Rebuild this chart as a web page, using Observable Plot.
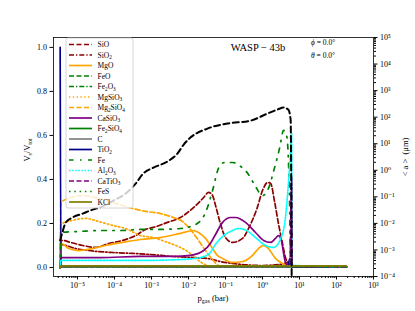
<!DOCTYPE html>
<html><head><meta charset="utf-8">
<script src="https://cdn.jsdelivr.net/npm/d3@7"></script>
<script src="https://cdn.jsdelivr.net/npm/@observablehq/plot@0.6"></script>
<style>
body{margin:0;background:#fff;}
#chart{width:415px;height:311px;overflow:hidden;}
</style></head><body><div id="chart"></div>
<script>
// ---- data: [log10(p_gas / bar), volume fraction V_s/V_tot] ----
const SiO = [[-5.47,0],[-5.45,0.118],[-5.41,0.123],[-5.19,0.114],[-4.86,0.10],[-4.51,0.091],[-4.16,0.109],[-3.78,0.123],[-3.43,0.145],[-3.16,0.173],[-2.95,0.182],[-2.57,0.205],[-2.22,0.227],[-1.86,0.273],[-1.59,0.318],[-1.46,0.341],[-1.36,0.33],[-1.27,0.282],[-1.14,0.20],[-1.0,0.136],[-0.81,0.114],[-0.54,0.132],[-0.38,0.177],[-0.14,0.273],[0.0,0.35],[0.14,0.386],[0.22,0.382],[0.32,0.305],[0.43,0.20],[0.54,0.109],[0.62,0.045],[0.70,0.018],[0.78,0.004],[2.27,0.003]];
const SiO2 = [[-5.47,0],[-5.45,0.105],[-5.32,0.10],[-5.05,0.086],[-4.70,0.077],[-4.05,0.068],[-3.51,0.064],[-3.03,0.059],[-2.41,0.05],[-1.86,0.045],[-1.49,0.041],[-1.14,0.027],[-0.59,0.014],[-0.05,0.009],[0.49,0.014],[0.70,0.023],[0.78,0.004],[2.27,0.003]];
const MgO = [[-5.47,0],[-5.43,0.109],[-5.24,0.086],[-4.97,0.077],[-4.59,0.086],[-4.24,0.10],[-3.78,0.114],[-3.30,0.127],[-2.76,0.136],[-2.22,0.155],[-1.86,0.168],[-1.73,0.159],[-1.54,0.132],[-1.35,0.086],[-1.22,0.055],[-1.08,0.041],[-0.81,0.023],[-0.54,0.027],[-0.27,0.055],[-0.11,0.086],[0.03,0.10],[0.16,0.086],[0.35,0.041],[0.54,0.018],[0.68,0.009],[0.78,0.004],[2.27,0.003]];
const FeO = [[-5.47,0],[-5.45,0.004],[0.78,0.004],[2.27,0.003]];
const Fe2O3 = [[-5.47,0],[-5.45,0.005],[0.6,0.005],[0.78,0.004],[2.27,0.003]];
const MgSiO3 = [[-5.47,0],[-5.45,0.195],[-5.41,0.2],[-5.14,0.214],[-4.78,0.223],[-4.43,0.209],[-4.05,0.191],[-3.70,0.177],[-3.30,0.145],[-2.95,0.136],[-2.57,0.114],[-2.22,0.091],[-1.95,0.064],[-1.73,0.032],[-1.49,0.009],[-1.27,0.004],[2.27,0.003]];
const Mg2SiO4 = [[-5.47,0],[-5.45,0.295],[-5.24,0.314],[-4.86,0.327],[-4.43,0.314],[-3.97,0.291],[-3.51,0.268],[-3.16,0.255],[-2.76,0.245],[-2.41,0.227],[-2.16,0.209],[-1.95,0.173],[-1.73,0.123],[-1.54,0.077],[-1.35,0.036],[-1.19,0.009],[-1.0,0.004],[2.27,0.003]];
const CaSiO3 = [[-5.47,0],[-5.45,0.045],[-4.38,0.045],[-3.3,0.05],[-2.41,0.05],[-1.95,0.055],[-1.59,0.077],[-1.41,0.109],[-1.27,0.15],[-1.08,0.205],[-0.86,0.227],[-0.73,0.227],[-0.46,0.205],[-0.19,0.159],[0.03,0.123],[0.22,0.114],[0.35,0.132],[0.43,0.145],[0.51,0.123],[0.57,0.064],[0.62,0.023],[0.70,0.006],[2.27,0.003]];
const Fe2SiO4 = [[-5.47,0],[-5.45,0.003],[2.27,0.003]];
const C = [[-5.47,0],[-5.45,0.003],[2.27,0.003]];
const TiO2 = [[-5.47,1.0],[-5.45,0.006],[0.68,0.006],[0.74,0.04],[0.78,0.03],[0.80,0.004],[2.27,0.003]];
const Fe = [[-5.47,0],[-5.45,0.159],[-4.92,0.164],[-4.38,0.168],[-3.84,0.168],[-3.30,0.173],[-2.76,0.173],[-2.22,0.177],[-1.81,0.195],[-1.54,0.25],[-1.35,0.35],[-1.19,0.45],[-1.03,0.477],[-0.81,0.477],[-0.59,0.459],[-0.38,0.423],[-0.19,0.368],[0.0,0.327],[0.16,0.359],[0.32,0.45],[0.46,0.541],[0.57,0.623],[0.65,0.60],[0.70,0.486],[0.73,0.305],[0.76,0.005],[2.27,0.003]];
const Al2O3 = [[-5.47,0],[-5.45,0.032],[-4.38,0.032],[-3.3,0.032],[-2.22,0.036],[-1.68,0.045],[-1.41,0.068],[-1.27,0.105],[-1.08,0.141],[-0.86,0.164],[-0.65,0.177],[-0.43,0.168],[-0.19,0.136],[0.08,0.10],[0.30,0.091],[0.49,0.132],[0.62,0.227],[0.70,0.382],[0.76,0.532],[0.785,0.609],[0.80,0.01],[2.27,0.003]];
const CaTiO3 = [[-5.47,0],[-5.45,0.005],[0.74,0.005],[0.785,0.41],[0.80,0.005],[2.27,0.003]];
const FeS = [[-5.47,0],[-5.45,0.004],[0.78,0.004],[2.27,0.003]];
const KCl = [[-5.47,0],[-5.45,0.007],[2.27,0.007]];
// mean particle size <a>: [log10(p_gas / bar), log10(<a> / µm)]
const logMeanSize = [[-5.47,-2.64],[-5.41,-2.34],[-5.32,-1.97],[-5.14,-1.78],[-4.86,-1.63],[-4.59,-1.48],[-4.32,-1.36],[-4.03,-1.14],[-3.70,-0.875],[-3.43,-0.5],[-3.22,-0.12],[-2.95,0.10],[-2.57,0.33],[-2.30,0.63],[-2.14,0.95],[-1.95,1.23],[-1.49,1.57],[-0.95,1.76],[-0.32,1.87],[0.14,2.14],[0.41,2.29],[0.57,2.36],[0.70,2.28],[0.76,1.9],[0.79,-4.5]];

const speciesNames = ["SiO","SiO2","MgO","FeO","Fe2O3","MgSiO3","Mg2SiO4","CaSiO3","Fe2SiO4","C","TiO2","Fe","Al2O3","CaTiO3","FeS","KCl"];
const speciesData = [SiO,SiO2,MgO,FeO,Fe2O3,MgSiO3,Mg2SiO4,CaSiO3,Fe2SiO4,C,TiO2,Fe,Al2O3,CaTiO3,FeS,KCl];
const speciesColors = ["#8b0000","#8b0000","#ffa500","#008000","#008000","#ffa500","#ffa500","#800080","#008000","#808080","#00008b","#008000","#00ffff","#800080","#008000","#808000"];
const speciesDash = ["5,2.5","5,2,1.3,2",null,"5,2.5","5,2,1.3,2","1.4,2.4","5,2.5",null,null,null,null,"4.5,6.5,1.5,6.5","1.5,1.6","5,2.5","1.5,3.8",null];
const xTickExp = [-5,-4,-3,-2,-1,0,1,2,3];
const yTicks = [0,0.2,0.4,0.6,0.8,1.0];
const rightTickExp = [-4,-3,-2,-1,0,1,2,3,4,5];
const titleText = "WASP − 43b";

// ---- scales ----
const FONT = "'Liberation Serif','DejaVu Serif',serif";
const yMin = -0.041, yMax = 1.045;
const toLeft = la => yMin + (la + 4) / 9 * (yMax - yMin);
const sup = s => String(s).replace(/-/g,"⁻").replace(/\d/g, d => "⁰¹²³⁴⁵⁶⁷⁸⁹"[d]);
const rows = pairs => pairs.map(([l, v]) => ({p: 10 ** l, v}));

const xMinor = [];
for (let k = -6; k <= 2; k++) for (let m = 2; m <= 9; m++) { const v = m * 10 ** k; if (v >= 10 ** -5.65 && v <= 1e3) xMinor.push(v); }
const rightMinor = [];
for (let k = -4; k <= 4; k++) for (let m = 2; m <= 9; m++) rightMinor.push(toLeft(k + Math.log10(m)));

const marks = [];
speciesData.forEach((d, i) => marks.push(Plot.line(rows(d), {
  x: "p", y: "v", stroke: speciesColors[i], strokeWidth: 1.7,
  strokeDasharray: speciesDash[i] || undefined, curve: "monotone-x", clip: true
})));
marks.push(Plot.line(logMeanSize.map(([l, a]) => ({p: 10 ** l, y: toLeft(a)})), {
  x: "p", y: "y", stroke: "black", strokeWidth: 2, strokeDasharray: "6,3.5", curve: "monotone-x", clip: true
}));
marks.push(
  Plot.axisX({ticks: xTickExp.map(e => 10 ** e), tickFormat: d => "10" + sup(Math.round(Math.log10(d))), tickSize: 3.5, tickPadding: 2, label: null, fontSize: 8}),
  Plot.axisX({ticks: xMinor, tickFormat: () => "", tickSize: 2, label: null}),
  Plot.axisY({ticks: yTicks, tickFormat: d => d.toFixed(1), tickSize: 3.5, tickPadding: 3, label: null, fontSize: 8}),
  Plot.axisY({anchor: "right", ticks: rightTickExp.map(toLeft), tickFormat: d => "10" + sup(Math.round((d - yMin) / (yMax - yMin) * 9 - 4)), tickSize: 3.5, tickPadding: 3, label: null, fontSize: 8}),
  Plot.axisY({anchor: "right", ticks: rightMinor, tickFormat: () => "", tickSize: 2, label: null}),
  Plot.frame({stroke: "black", strokeWidth: 0.8})
);

const plot = Plot.plot({
  width: 415, height: 311,
  marginLeft: 53, marginRight: 42, marginTop: 37, marginBottom: 35,
  style: {fontFamily: FONT, fontSize: "8px", background: "white", color: "black"},
  x: {type: "log", domain: [10 ** -5.65, 1e3]},
  y: {domain: [yMin, yMax]},
  marks
});
document.getElementById("chart").appendChild(plot);

// ---- annotations ----
const svg = d3.select(plot);
function rich(sel, parts, size) {
  let shifted = false;
  parts.forEach(([t, kind]) => {
    const ts = sel.append("tspan").text(t);
    if (kind === "sub") { ts.attr("font-size", size * 0.7).attr("dy", shifted ? 0 : size * 0.22); shifted = true; }
    else if (shifted) { ts.attr("dy", -size * 0.22); shifted = false; }
  });
}
const chemParts = name => name.match(/\d+|[^\d]+/g).map(s => [s, /\d/.test(s) ? "sub" : null]);

svg.append("text").attr("x", 258).attr("y", 49).attr("text-anchor", "middle").attr("dominant-baseline", "middle")
  .attr("font-size", 10.5).attr("font-family", FONT).text(titleText);
const ang = svg.append("g").attr("font-family", FONT).attr("font-size", 7.5).attr("text-anchor", "start");
const t1 = ang.append("text").attr("x", 311).attr("y", 43).attr("dominant-baseline", "middle");
t1.append("tspan").attr("font-style", "italic").text("ϕ"); t1.append("tspan").text(" = 0.0°");
const t2 = ang.append("text").attr("x", 311).attr("y", 55.5).attr("dominant-baseline", "middle");
t2.append("tspan").attr("font-style", "italic").text("θ"); t2.append("tspan").text(" = 0.0°");

const xl = svg.append("text").attr("x", 213).attr("y", 301).attr("text-anchor", "middle").attr("font-size", 8.5).attr("font-family", FONT);
rich(xl, [["p", null], ["gas", "sub"], [" (bar)", null]], 8.5);
const yl = svg.append("text").attr("transform", "translate(30,150) rotate(-90)").attr("text-anchor", "middle").attr("font-size", 8.5).attr("font-family", FONT);
rich(yl, [["V", null], ["s", "sub"], ["/V", null], ["tot", "sub"]], 8.5);
svg.append("text").attr("transform", "translate(408,157) rotate(-90)").attr("text-anchor", "middle").attr("font-size", 8.5).attr("font-family", FONT)
  .text("< a >  (μm)");

// ---- legend ----
const lg = svg.append("g").attr("font-family", FONT).attr("font-size", 7.5).attr("text-anchor", "start");
lg.append("rect").attr("x", 66).attr("y", 38).attr("width", 67).attr("height", 170).attr("rx", 2)
  .attr("fill", "white").attr("fill-opacity", 0.8).attr("stroke", "#cccccc").attr("stroke-width", 0.8);
speciesNames.forEach((n, i) => {
  const y = 44.5 + i * 10.5;
  lg.append("line").attr("x1", 69).attr("x2", 92).attr("y1", y).attr("y2", y)
    .attr("stroke", speciesColors[i]).attr("stroke-width", 1.7).attr("stroke-dasharray", speciesDash[i] || null);
  const t = lg.append("text").attr("x", 97.5).attr("y", y + 2.6).attr("text-anchor", "start");
  rich(t, chemParts(n), 7.5);
});
</script></body></html>
